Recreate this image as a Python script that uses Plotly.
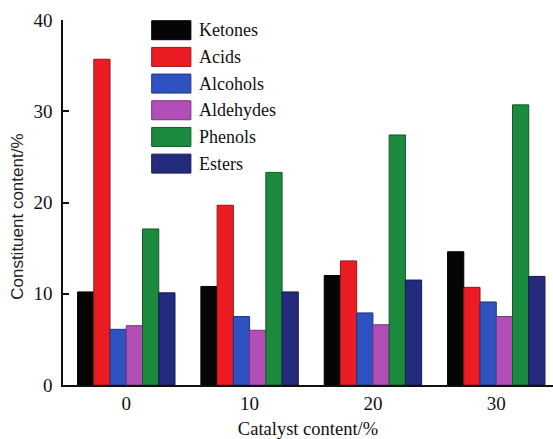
import plotly.graph_objects as go

# Catalyst loading (%) and product distribution (%)
catalyst = ["0", "10", "20", "30"]
ketones = [10.2, 10.8, 12.0, 14.6]
acids = [35.7, 19.7, 13.6, 10.7]
alcohols = [6.1, 7.5, 7.9, 9.1]
aldehydes = [6.5, 6.0, 6.6, 7.5]
phenols = [17.1, 23.3, 27.4, 30.7]
esters = [10.1, 10.2, 11.5, 11.9]

series_names = ["Ketones", "Acids", "Alcohols", "Aldehydes", "Phenols", "Esters"]
series_values = [ketones, acids, alcohols, aldehydes, phenols, esters]
fill_colors = ["#050505", "#ec1c24", "#2e52c0", "#b24fb6", "#1b8a3c", "#242a7c"]
edge_colors = ["#000000", "#9a1418", "#1d3480", "#7a3280", "#0f5a26", "#151a50"]

FONT = "Liberation Serif"
SANS = "Liberation Sans"

fig = go.Figure()
for name, vals, fc, ec in zip(series_names, series_values, fill_colors, edge_colors):
    fig.add_trace(go.Bar(
        x=catalyst, y=vals, name=name,
        marker=dict(color=fc, line=dict(color=ec, width=1)),
        showlegend=False,
    ))

# Hand-built legend: wide swatches with labels to the right
lx0, lx1 = 0.181, 0.261   # swatch left/right in paper x
ly_top = 0.972            # first row centre in paper y
row_step = 0.0731
sw_h = 0.052
for i, (name, fc, ec) in enumerate(zip(series_names, fill_colors, edge_colors)):
    yc = ly_top - i * row_step
    fig.add_shape(type="rect", xref="paper", yref="paper",
                  x0=lx0, x1=lx1, y0=yc - sw_h / 2, y1=yc + sw_h / 2,
                  fillcolor=fc, line=dict(color=ec, width=1))
    fig.add_annotation(xref="paper", yref="paper", x=lx1 + 0.012, y=yc,
                       text=name, showarrow=False, xanchor="left", yanchor="middle",
                       font=dict(family=FONT, size=18, color="#111111"))

# Vertical axis title, set in a sans face
fig.add_annotation(xref="paper", yref="paper", x=-0.093, y=0.462,
                   text="Constituent content/%", textangle=-90, showarrow=False,
                   xanchor="center", yanchor="middle",
                   font=dict(family=SANS, size=17, color="#222222"))

fig.update_layout(
    width=553, height=439,
    margin=dict(l=63, r=0, t=20, b=54),
    paper_bgcolor="white", plot_bgcolor="white",
    barmode="group", bargap=0.21, bargroupgap=0,
    font=dict(family=FONT, size=18, color="#111111"),
    xaxis=dict(
        type="category", range=[-0.513, 3.46],
        showline=True, linecolor="#111111", linewidth=1.5,
        ticks="", showgrid=False, zeroline=False,
        tickfont=dict(family=FONT, size=19),
        title=dict(text="Catalyst content/%", font=dict(family=FONT, size=18.5), standoff=11),
    ),
    yaxis=dict(
        range=[0, 40], tickvals=[0, 10, 20, 30, 40],
        showline=True, linecolor="#111111", linewidth=1.5,
        ticks="inside", ticklen=6, tickwidth=1.5, tickcolor="#111111",
        showgrid=False, zeroline=False,
        tickfont=dict(family=FONT, size=19), ticklabelstandoff=5,
    ),
)

fig.write_html("out.html")
